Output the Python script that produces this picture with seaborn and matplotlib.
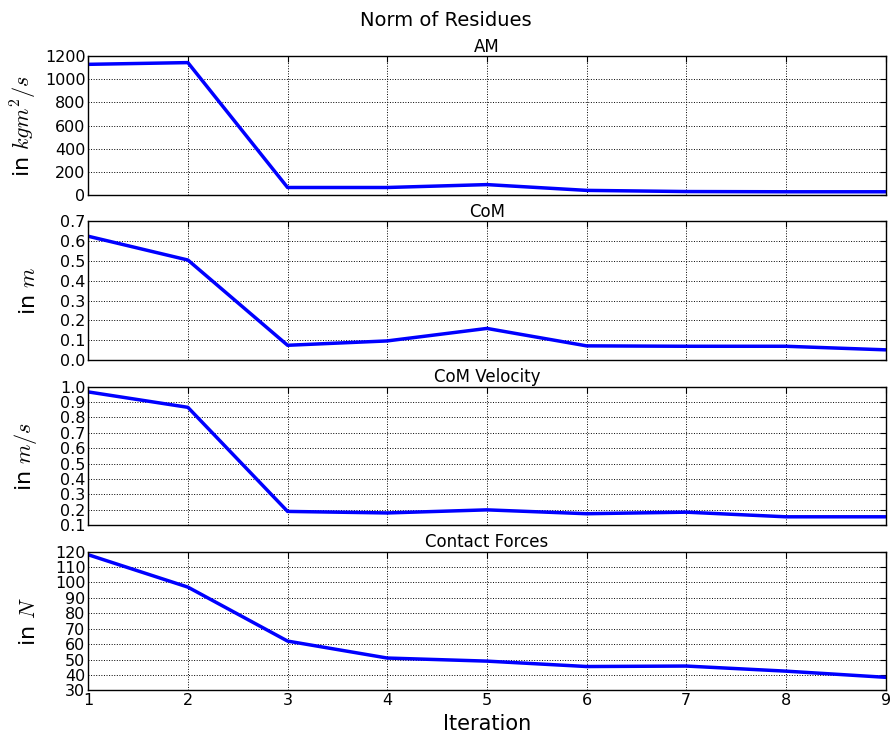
import matplotlib
matplotlib.use("Agg")
import matplotlib.pyplot as plt
from matplotlib import font_manager
import seaborn as sns
import pandas as pd
import numpy as np

iterations = [1, 2, 3, 4, 5, 6, 7, 8, 9]
am_values = [1130, 1145, 65, 65, 90, 40, 30, 28, 28]
com_values = [0.625, 0.505, 0.075, 0.097, 0.160, 0.072, 0.070, 0.070, 0.052]
comvel_values = [0.965, 0.865, 0.190, 0.180, 0.200, 0.175, 0.185, 0.155, 0.155]
contact_values = [118, 97, 62, 51, 49, 45.5, 45.8, 42.5, 38.5]

titles = ["AM", "CoM", "CoM Velocity", "Contact Forces"]
ylabels = [r"in $kgm^2/s$", r"in $m$", r"in $m/s$", r"in $N$"]
ylims = [(0, 1200), (0, 0.7), (0.1, 1.0), (30, 120)]
ysteps = [200, 0.1, 0.1, 10]

names = {f.name for f in font_manager.fontManager.ttflist}
narrow = "Liberation Sans Narrow" if "Liberation Sans Narrow" in names else "DejaVu Sans"
tick_size = 14 if narrow != "DejaVu Sans" else 11.5

sns.set_style("white")
plt.rcParams.update({
    "font.family": ["DejaVu Sans"],
    "mathtext.fontset": "cm",
    "xtick.direction": "in",
    "ytick.direction": "in",
    "xtick.top": True,
    "ytick.right": True,
    "axes.edgecolor": "black",
    "axes.linewidth": 1.0,
    "text.color": "black",
    "axes.labelcolor": "black",
    "axes.titlecolor": "black",
    "xtick.color": "black",
    "ytick.color": "black",
})

fig, axes = plt.subplots(4, 1, figsize=(8.91, 7.40), dpi=100, sharex=True)
fig.subplots_adjust(left=0.099, right=0.994, top=0.924, bottom=0.067, hspace=0.19)

series = [am_values, com_values, comvel_values, contact_values]
for ax, vals, title, yl, lim, st in zip(axes, series, titles, ylabels, ylims, ysteps):
    df = pd.DataFrame({"Iteration": iterations, "value": vals})
    sns.lineplot(data=df, x="Iteration", y="value", ax=ax, color=(0, 0, 1), linewidth=2.5)
    ax.set_title(title, fontsize=12, pad=3, family=narrow)
    ax.set_ylabel(yl, fontsize=16)
    ax.set_xlabel("")
    ax.set_xlim(1, 9)
    ax.set_ylim(*lim)
    ax.set_yticks(np.round(np.arange(lim[0], lim[1] + st / 2, st), 3))
    ax.grid(True, color="black", linestyle=":", linewidth=0.7)
    ax.tick_params(labelsize=tick_size, length=4, width=0.8, colors="black", pad=2)
    for lab in ax.get_xticklabels() + ax.get_yticklabels():
        lab.set_family(narrow)
    for s in ax.spines.values():
        s.set_visible(True)
        s.set_color("black")

axes[-1].set_xticks(iterations)
for lab in axes[-1].get_xticklabels():
    lab.set_family(narrow)
axes[-1].set_xlabel("Iteration", fontsize=15)
fig.suptitle("Norm of Residues", fontsize=14, y=0.985)
fig.align_ylabels(axes)
fig.savefig("out.png", dpi=100, facecolor="white")
